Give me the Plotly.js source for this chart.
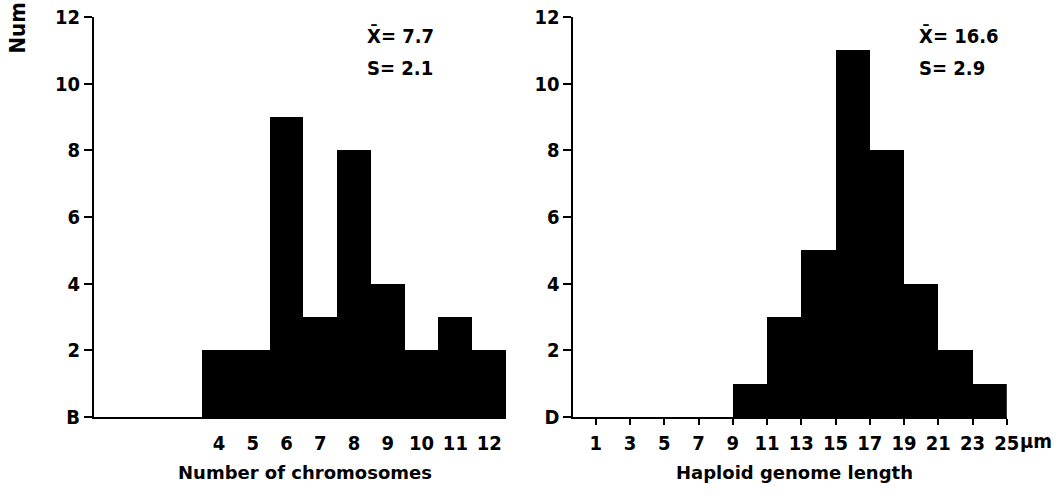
<!DOCTYPE html>
<html><head><meta charset="utf-8">
<script src="https://cdn.plot.ly/plotly-3.0.1.min.js"></script>
<style>body{margin:0;background:#fff}#chart{width:1062px;height:495px}</style>
</head><body><div id="chart"></div>
<script>
// Panel B: number of chromosomes
const chromCategories = [4, 5, 6, 7, 8, 9, 10, 11, 12];
const chromCounts = [2, 2, 9, 3, 8, 4, 2, 3, 2];
// Panel D: haploid genome length (bin centres, bins 2 µm wide)
const genomeBinCentres = [10, 12, 14, 16, 18, 20, 22, 24];
const genomeCounts = [1, 3, 5, 11, 8, 4, 2, 1];
const genomeTicks = [1, 3, 5, 7, 9, 11, 13, 15, 17, 19, 21, 23, 25];
const genomeTickText = ['1','3','5','7','9','11','13','15','17','19','21','23','25'];
const yTicks = [0, 2, 4, 6, 8, 10, 12];
const yTickTextB = ['B','2','4','6','8','10','12'];
const yTickTextD = ['D','2','4','6','8','10','12'];

const WIDE = 'DejaVu Sans, Liberation Sans, sans-serif';
const COND = 'DejaVu Sans Condensed, DejaVu Sans, sans-serif';
const font = (f, s) => ({family: f, size: s, color: '#000', weight: 'bold'});

const traces = [
  {type: 'bar', x: chromCategories, y: chromCounts, width: 1, xaxis: 'x', yaxis: 'y',
   marker: {color: '#000', line: {width: 0}}, hoverinfo: 'x+y'},
  {type: 'bar', x: genomeBinCentres, y: genomeCounts, width: 2, xaxis: 'x2', yaxis: 'y2',
   marker: {color: '#000', line: {width: 0}}, hoverinfo: 'x+y'}
];

const yax = (txt, anchor) => ({
  range: [0, 12], tickvals: yTicks, ticktext: txt, ticks: 'outside', ticklen: 8,
  tickwidth: 2, tickcolor: '#000', showline: true, linewidth: 2, linecolor: '#000',
  showgrid: false, zeroline: false, tickfont: font(COND, 20), anchor: anchor, fixedrange: true
});

const py = (px) => 1 - (px - 17) / 400;   // pixel row -> paper y

const layout = {
  width: 1062, height: 495,
  margin: {l: 0, r: 0, t: 17, b: 78},
  paper_bgcolor: '#fff', plot_bgcolor: '#fff',
  showlegend: false, bargap: 0,
  xaxis: {domain: [0.0885, 0.4765], range: [0.3, 12.5], tickvals: chromCategories,
    ticks: '', showline: true, linewidth: 2, linecolor: '#000', showgrid: false,
    zeroline: false, tickfont: font(COND, 20), anchor: 'y', tickangle: 0, ticklabelstandoff: 7},
  yaxis: yax(yTickTextB, 'x'),
  xaxis2: {domain: [0.540, 0.948], range: [-0.3, 25], tickvals: genomeTicks, ticktext: genomeTickText,
    ticks: 'outside', ticklen: 6, tickwidth: 2, tickcolor: '#000',
    showline: true, linewidth: 2, linecolor: '#000', showgrid: false,
    zeroline: false, tickfont: font(COND, 20), anchor: 'y2', tickangle: 0, ticklabelstandoff: 1},
  yaxis2: yax(yTickTextD, 'x2'),
  annotations: [
    {xref: 'paper', yref: 'paper', x: 305/1062, y: py(472), xanchor: 'center', yanchor: 'middle',
     text: 'Number of chromosomes', showarrow: false, font: font(WIDE, 18)},
    {xref: 'paper', yref: 'paper', x: 794/1062, y: py(472), xanchor: 'center', yanchor: 'middle',
     text: 'Haploid genome length', showarrow: false, font: font(WIDE, 18)},
    {xref: 'paper', yref: 'paper', x: 365/1062, y: py(36), xanchor: 'left', yanchor: 'middle',
     text: 'X\u0304= 7.7', showarrow: false, font: font(COND, 20)},
    {xref: 'paper', yref: 'paper', x: 365/1062, y: py(68), xanchor: 'left', yanchor: 'middle',
     text: 'S= 2.1', showarrow: false, font: font(COND, 20)},
    {xref: 'paper', yref: 'paper', x: 917/1062, y: py(36), xanchor: 'left', yanchor: 'middle',
     text: 'X\u0304= 16.6', showarrow: false, font: font(COND, 20)},
    {xref: 'paper', yref: 'paper', x: 917/1062, y: py(68), xanchor: 'left', yanchor: 'middle',
     text: 'S= 2.9', showarrow: false, font: font(COND, 20)},
    {xref: 'x2', yref: 'paper', x: 25, y: py(441), xanchor: 'left', yanchor: 'middle', xshift: 11,
     text: 'µm', showarrow: false, font: font(COND, 20)},
    {xref: 'paper', yref: 'paper', x: 17/1062, y: py(1), xanchor: 'center', yanchor: 'top',
     text: 'Num', textangle: -90, showarrow: false, font: font(COND, 22)}
  ]
};

Plotly.newPlot('chart', traces, layout, {displayModeBar: false, staticPlot: true});
</script></body></html>
